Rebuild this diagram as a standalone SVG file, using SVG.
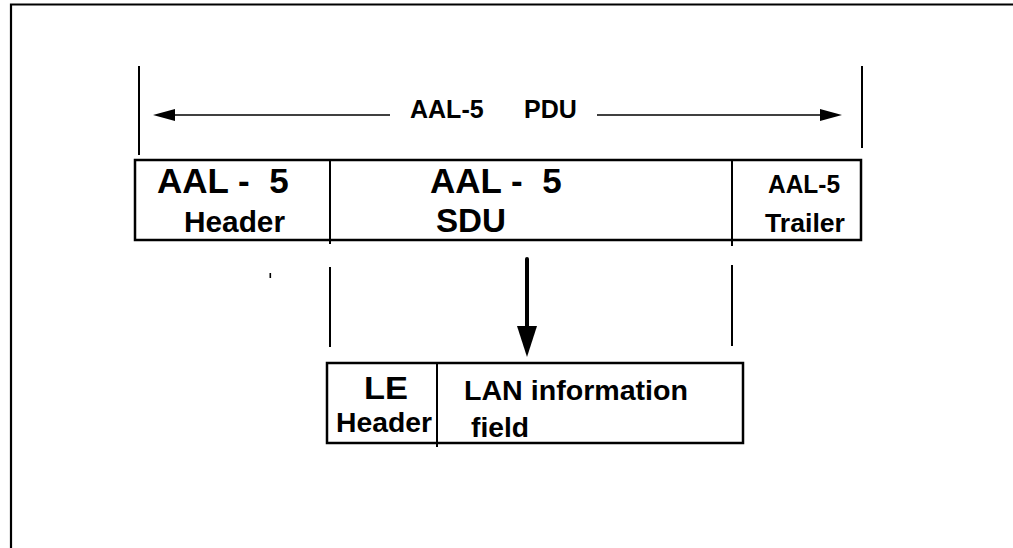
<svg xmlns="http://www.w3.org/2000/svg" width="1013" height="548" viewBox="0 0 1013 548">
<style>
.t{font-family:"Liberation Sans",Arial,Helvetica,sans-serif;font-weight:bold;fill:#000}
.ln{stroke:#000;fill:none}
.box{stroke:#000;stroke-width:2.5;fill:none}
</style>
<rect width="1013" height="548" fill="#fff"/>
<path class="ln" d="M11 548 V4.5 H1013" stroke-width="2.2"/>
<g id="connectors">
  <line class="ln" x1="139" y1="66" x2="139" y2="155" stroke-width="2"/>
  <line class="ln" x1="862" y1="66" x2="862" y2="148" stroke-width="2"/>
  <line class="ln" x1="174" y1="115" x2="390" y2="115" stroke-width="1.5"/>
  <polygon points="153,115 175,109 175,121" fill="#000"/>
  <line class="ln" x1="597" y1="115" x2="821" y2="115" stroke-width="1.5"/>
  <polygon points="842,115 820,109 820,121" fill="#000"/>
  <line class="ln" x1="330" y1="267" x2="330" y2="347" stroke-width="2"/>
  <line class="ln" x1="732" y1="265" x2="732" y2="346" stroke-width="2"/>
  <line class="ln" x1="527" y1="259" x2="527" y2="328" stroke-width="4" stroke-linecap="round"/>
  <polygon points="517,326 537,326 527,357" fill="#000"/>
  <rect x="269.5" y="273" width="1.6" height="5" fill="#000"/>
</g>
<g id="pdu-label">
  <text class="t" x="410" y="118" font-size="25">AAL-5<tspan x="524">PDU</tspan></text>
</g>
<g id="aal5-pdu">
  <rect class="box" x="135" y="160" width="726" height="80"/>
</g>
<g id="aal5-header">
  <line class="ln" x1="330" y1="160" x2="330" y2="244" stroke-width="2"/>
  <text class="t" x="157" y="193" font-size="35" xml:space="preserve">AAL -  5</text>
  <text class="t" x="184" y="232" font-size="29" textLength="101" lengthAdjust="spacingAndGlyphs">Header</text>
</g>
<g id="aal5-sdu">
  <text class="t" x="430" y="193" font-size="35" xml:space="preserve">AAL -  5</text>
  <text class="t" x="436" y="232" font-size="33" textLength="70" lengthAdjust="spacingAndGlyphs">SDU</text>
</g>
<g id="aal5-trailer">
  <line class="ln" x1="732" y1="160" x2="732" y2="246" stroke-width="2"/>
  <text class="t" x="768" y="193" font-size="25" textLength="72" lengthAdjust="spacingAndGlyphs">AAL-5</text>
  <text class="t" x="765" y="232" font-size="26" textLength="80" lengthAdjust="spacingAndGlyphs">Trailer</text>
</g>
<g id="le-frame">
  <rect class="box" x="327" y="363" width="416" height="80"/>
  <line class="ln" x1="437" y1="363" x2="437" y2="447" stroke-width="2"/>
</g>
<g id="le-header">
  <text class="t" x="364" y="399" font-size="32" textLength="44" lengthAdjust="spacingAndGlyphs">LE</text>
  <text class="t" x="336" y="432" font-size="28" textLength="96" lengthAdjust="spacingAndGlyphs">Header</text>
</g>
<g id="lan-info">
  <text class="t" x="464" y="400" font-size="28" textLength="224" lengthAdjust="spacingAndGlyphs">LAN information</text>
  <text class="t" x="471" y="437" font-size="28" textLength="58" lengthAdjust="spacingAndGlyphs">field</text>
</g>
</svg>
